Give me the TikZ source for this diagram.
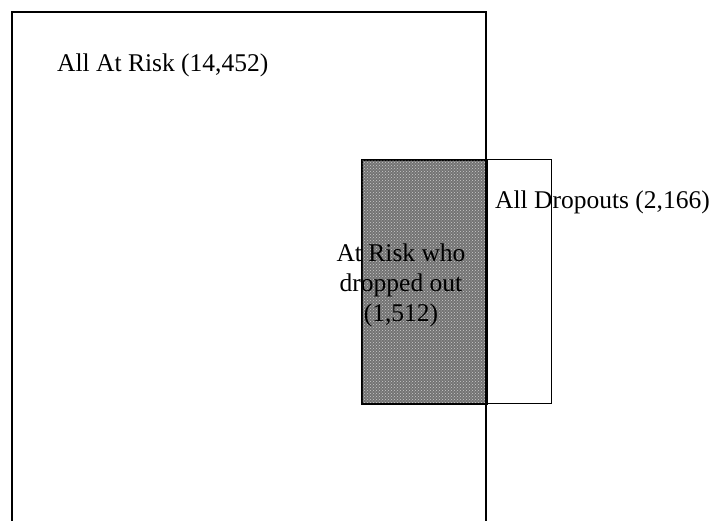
\documentclass[tikz,border=0pt]{standalone}
\usepackage{fontspec}
\setmainfont{Liberation Serif}
\usetikzlibrary{patterns}
\begin{document}
\begin{tikzpicture}[x=1pt,y=-1pt,
  lbl/.style={font=\fontsize{25.5}{30}\selectfont, inner sep=0pt},
  frame/.style={line width=1.8pt},
  thinframe/.style={line width=1.3pt},
  shaded/.style={fill=black!55, draw=black, line width=1.8pt}]
\useasboundingbox (0,0) rectangle (719,521);
% coordinates
\coordinate (bl) at (12,521);
\coordinate (tl) at (12,12);
\coordinate (tr) at (486,12);
\coordinate (br) at (486,521);
% shaded intersection
\node[shaded, minimum width=125pt, minimum height=244pt, anchor=north west] (inter) at (361,159) {};
\node[pattern=crosshatch dots, pattern color=white!80!black, minimum width=123pt, minimum height=242pt, inner sep=0pt, anchor=north west] (dots) at (362,160) {};
% all dropouts box
\node[draw, thinframe, minimum width=190pt, minimum height=244pt, anchor=north west] (drop) at (361,159) {};
% all at risk open rectangle
\draw[frame] (bl) -- (tl) -- (tr) -- (br);
% labels
\node[lbl, anchor=base west] (allrisk) at (57,72) {All At Risk (14,452)};
\node[lbl, anchor=base west] (alldrop) at (495,208) {All Dropouts (2,166)};
\node[lbl, align=center] (riskdrop) at (401,285) {At Risk who\\dropped out\\(1,512)};
\end{tikzpicture}
\end{document}
